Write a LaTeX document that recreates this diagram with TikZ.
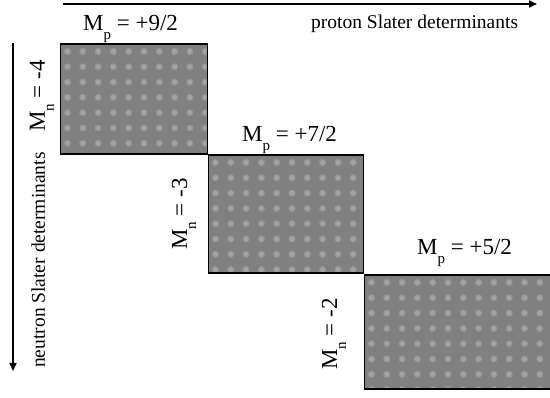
\documentclass[tikz,border=0pt]{standalone}
\usepackage{fontspec}
\setmainfont{Liberation Serif}
\usetikzlibrary{arrows.meta}
\newcommand{\mlab}[2]{M\raisebox{-9pt}{\fontsize{15}{15}\selectfont #1} = #2}
\begin{document}
\begin{tikzpicture}[x=1pt,y=-1pt,
  blk/.style={draw=black, line width=1pt, fill=black!50, inner sep=0pt, anchor=north west},
  lab/.style={font=\fontsize{23}{23}\selectfont, inner sep=0pt, anchor=base west},
  axlab/.style={font=\fontsize{19.5}{19.5}\selectfont, inner sep=0pt, anchor=base west},
  axis/.style={line width=1.6pt, -{Triangle[length=8pt,width=7pt]}}]
\useasboundingbox[fill=white] (0,0) rectangle (550,398);
% blocks
\node[blk, minimum width=147pt, minimum height=110pt] (b1) at (60,44) {};
\node[blk, minimum width=155pt, minimum height=118pt] (b2) at (208,155) {};
\node[blk, minimum width=190pt, minimum height=114pt] (b3) at (364,275) {};
\foreach \b/\x/\y/\w/\h in {b1/60/44/147/110, b2/208/155/155/118, b3/364/275/190/114}{
  \begin{scope}
    \clip (\x+0.5,\y+0.5) rectangle (\x+\w-0.5,\y+\h-0.5);
    \foreach \i in {0,...,13}{
      \foreach \j in {0,...,8}{
        \fill[black!42] (\x+7.5+15.3*\i,\y+7.5+15.3*\j) circle (3.6pt);
        \fill[black!36] (\x+7.5+15.3*\i,\y+7.5+15.3*\j) circle (2.4pt);
      }
    }
  \end{scope}
  \draw[line width=1pt] (\x,\y) rectangle (\x+\w,\y+\h);
}
% axes
\coordinate (ts) at (63,4);
\coordinate (te) at (537,4);
\coordinate (ls) at (13,43);
\coordinate (le) at (13,371);
\draw[axis] (ts) -- (te);
\draw[axis] (ls) -- (le);
% labels
\node[axlab] (pl) at (311,29) {proton Slater determinants};
\node[axlab, rotate=90] (nl) at (45,368) {neutron Slater determinants};
\node[lab] (p1) at (83,31) {\mlab{p}{+9/2}};
\node[lab] (p2) at (242,142) {\mlab{p}{+7/2}};
\node[lab] (p3) at (417,255) {\mlab{p}{+5/2}};
\node[lab, rotate=90] (n1) at (45,132) {\mlab{n}{-4}};
\node[lab, rotate=90] (n2) at (187,250) {\mlab{n}{-3}};
\node[lab, rotate=90] (n3) at (337,370) {\mlab{n}{-2}};
\end{tikzpicture}
\end{document}
